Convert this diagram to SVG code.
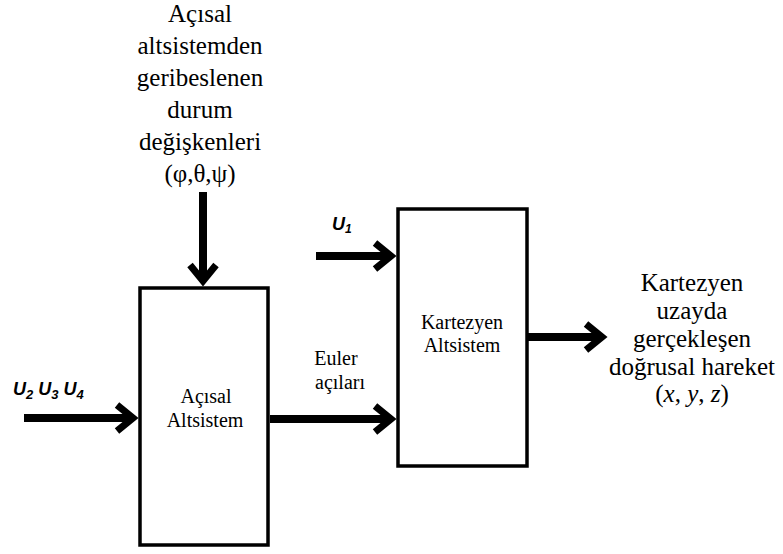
<svg xmlns="http://www.w3.org/2000/svg" width="783" height="554" viewBox="0 0 783 554">
<style>
.box{fill:#fff;stroke:#000;stroke-width:3.5}
.conn{stroke:#000;stroke-width:8;fill:none}
.serif{font-family:"Liberation Serif","Times New Roman",serif;fill:#000}
.lbl{font-size:25px;text-anchor:middle}
.blbl{font-size:20px;text-anchor:middle}
.u{font-family:"Liberation Sans",Arial,sans-serif;font-weight:bold;font-style:italic;font-size:18px;fill:#000}
</style>
<defs>
<marker id="chev" markerUnits="userSpaceOnUse" viewBox="0 0 24 32" markerWidth="24" markerHeight="32" refX="19" refY="16" orient="auto" overflow="visible">
<path d="M3,3 L19,16 L3,29" fill="none" stroke="#000" stroke-width="7" stroke-miterlimit="10"/>
</marker>
</defs>
<rect width="783" height="554" fill="#fff"/>
<g id="feedback-label">
<text class="serif lbl" x="200" y="22">Açısal</text>
<text class="serif lbl" x="200" y="54">altsistemden</text>
<text class="serif lbl" x="200" y="86">geribeslenen</text>
<text class="serif lbl" x="200" y="118">durum</text>
<text class="serif lbl" x="200" y="150">değişkenleri</text>
<text class="serif lbl" x="200" y="182">(φ,θ,ψ)</text>
</g>
<g id="acisal">
<rect class="box" x="140" y="288" width="128" height="257"/>
<text class="serif blbl" x="206" y="403">Açısal</text>
<text class="serif blbl" x="205" y="427">Altsistem</text>
</g>
<g id="kartezyen">
<rect class="box" x="398" y="209" width="129" height="257"/>
<text class="serif blbl" x="462" y="329">Kartezyen</text>
<text class="serif blbl" x="462" y="352">Altsistem</text>
</g>
<g id="output-label">
<text class="serif lbl" x="692" y="291">Kartezyen</text>
<text class="serif lbl" x="692" y="319">uzayda</text>
<text class="serif lbl" x="692" y="347">gerçekleşen</text>
<text class="serif lbl" x="692" y="375">doğrusal hareket</text>
<text class="serif lbl" x="692" y="402">(<tspan font-style="italic">x</tspan>, <tspan font-style="italic">y</tspan>, <tspan font-style="italic">z</tspan>)</text>
</g>
<g id="input-labels">
<text class="u" x="13" y="395">U<tspan font-size="13" dy="4">2</tspan><tspan dy="-4"> U</tspan><tspan font-size="13" dy="4">3</tspan><tspan dy="-4"> U</tspan><tspan font-size="13" dy="4">4</tspan></text>
<text class="u" x="332" y="230">U<tspan font-size="12" dy="3">1</tspan></text>
<text class="serif blbl" x="336" y="365">Euler</text>
<text class="serif blbl" x="340" y="389">açıları</text>
</g>
<g id="connectors">
<line class="conn" x1="203" y1="192" x2="203" y2="281" marker-end="url(#chev)"/>
<line class="conn" x1="24" y1="418" x2="133" y2="418" marker-end="url(#chev)"/>
<line class="conn" x1="270" y1="419" x2="391" y2="419" marker-end="url(#chev)"/>
<line class="conn" x1="316" y1="256" x2="391" y2="256" marker-end="url(#chev)"/>
<line class="conn" x1="528" y1="337" x2="602" y2="337" marker-end="url(#chev)"/>
</g>
</svg>
